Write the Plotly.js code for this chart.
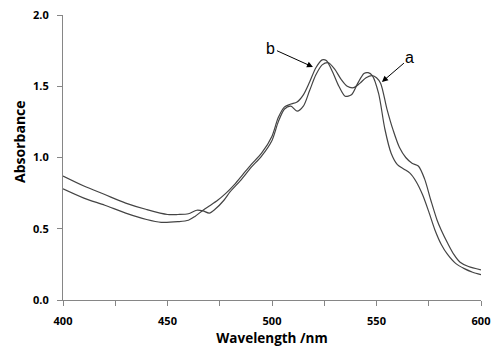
<!DOCTYPE html>
<html><head><meta charset="utf-8">
<script src="https://cdn.plot.ly/plotly-3.0.1.min.js"></script>
<style>html,body{margin:0;padding:0;background:#fff}#chart{width:496px;height:348px}</style>
</head><body><div id="chart"></div>
<script>
const wlA = [400,410,420,430,440,450,455,460,464,467,470,473,477,480,485,490,495,500,503,506,509,512,515,518,521,524,527,530,533,536,539,542,545,548,550,552,555,558,561,564,567,570,573,576,579,581,584,587,590,594,600];
const absA = [0.87,0.80,0.74,0.68,0.635,0.60,0.60,0.605,0.63,0.625,0.61,0.64,0.70,0.76,0.84,0.93,1.01,1.12,1.25,1.34,1.36,1.325,1.36,1.47,1.58,1.65,1.665,1.62,1.55,1.50,1.49,1.52,1.56,1.575,1.56,1.52,1.34,1.19,1.07,1.00,0.96,0.94,0.85,0.70,0.56,0.49,0.40,0.32,0.265,0.235,0.212];
const wlB = [400,410,420,430,440,447,455,460,463,467,470,474,478,482,486,490,495,500,503,506,509,512,515,518,521,524,526,529,532,535,538,541,544,546,548,551,554,557,560,563,566,569,572,575,578,581,584,588,592,596,600];
const absB = [0.78,0.715,0.665,0.61,0.565,0.545,0.55,0.56,0.585,0.63,0.66,0.70,0.75,0.81,0.88,0.95,1.03,1.15,1.28,1.355,1.375,1.39,1.44,1.53,1.63,1.685,1.68,1.60,1.50,1.43,1.44,1.52,1.59,1.595,1.575,1.45,1.20,1.03,0.95,0.92,0.89,0.83,0.74,0.62,0.49,0.39,0.32,0.255,0.22,0.195,0.178];
const labels = ['a','b'];

const lineStyle = {color:'#444444', width:1.2, shape:'spline', smoothing:0.8};
const traces = [
  {x: wlA, y: absA, type:'scatter', mode:'lines', line: lineStyle, name: labels[0], hoverinfo:'skip'},
  {x: wlB, y: absB, type:'scatter', mode:'lines', line: lineStyle, name: labels[1], hoverinfo:'skip'}
];
const fam = 'Open Sans, Liberation Sans, sans-serif';
const tickFont = {family:fam, size:11, color:'#000', weight:'bold'};
const layout = {
  width:496, height:348,
  margin:{l:63, r:15, t:15, b:48},
  paper_bgcolor:'#fff', plot_bgcolor:'#fff',
  showlegend:false,
  xaxis:{range:[400,600], dtick:50, tick0:400, ticks:'outside', ticklen:5, tickcolor:'#868686',
    showline:true, linecolor:'#868686', linewidth:1, showgrid:false, zeroline:false,
    minor:{dtick:25, ticks:'outside', ticklen:5, tickcolor:'#868686', showgrid:false},
    tickfont:tickFont, ticklabelstandoff:6,
    title:{text:'Wavelength /nm', font:{family:fam, size:13.5, color:'#000', weight:'bold'}, standoff:6}},
  yaxis:{range:[0,2], dtick:0.5, tick0:0, tickformat:'.1f', ticks:'outside', ticklen:5, tickcolor:'#868686',
    showline:true, linecolor:'#868686', linewidth:1, showgrid:false, zeroline:false,
    tickfont:tickFont, ticklabelstandoff:6},
  annotations:[
    {x:-0.103, y:0.558, xref:'paper', yref:'paper', text:'Absorbance', showarrow:false, textangle:-90,
     xanchor:'center', yanchor:'middle', font:{family:fam, size:14, color:'#000', weight:'bold'}},
    {x:519.6, y:1.635, xref:'x', yref:'y', text:labels[1], showarrow:true, arrowhead:2, arrowsize:1.2, arrowwidth:1, arrowcolor:'#000', ax:-42, ay:-19, font:{family:'Liberation Sans, Arial, sans-serif', size:16, color:'#000'}},
    {x:552.6, y:1.53, xref:'x', yref:'y', text:labels[0], showarrow:true, arrowhead:2, arrowsize:1.2, arrowwidth:1, arrowcolor:'#000', ax:28, ay:-24, font:{family:'Liberation Sans, Arial, sans-serif', size:16, color:'#000'}}
  ]
};
Plotly.newPlot('chart', traces, layout, {staticPlot:true, displayModeBar:false});
</script></body></html>
